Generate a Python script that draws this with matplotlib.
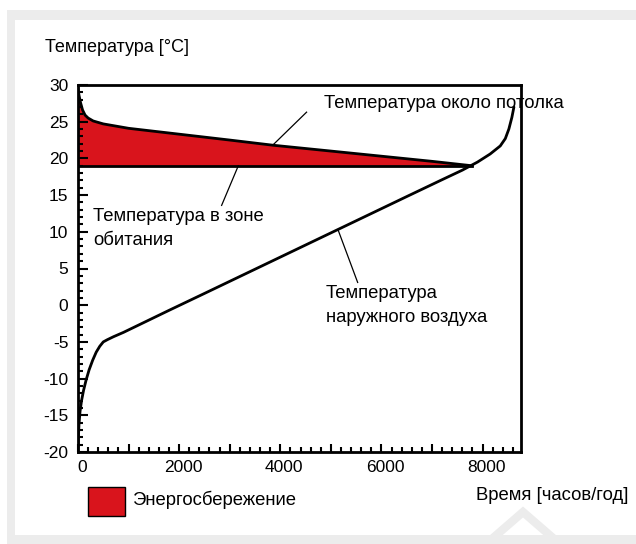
import matplotlib
matplotlib.use("Agg")
import matplotlib.pyplot as plt
import matplotlib.transforms as mtransforms
from matplotlib.patches import Rectangle
from matplotlib.lines import Line2D
from matplotlib.ticker import MultipleLocator, FixedLocator, FixedFormatter
import numpy as np

plt.rcParams['font.family'] = ['Liberation Sans', 'DejaVu Sans']
plt.rcParams['axes.unicode_minus'] = False

# Annual duration curves (hours per year vs temperature, °C)
hours_outdoor = [0, 8, 20, 40, 70, 110, 160, 220, 290, 360, 430, 500, 580, 700, 900,
                 1200, 1800, 2500, 3500, 4500, 5500, 6500, 7200, 7600, 7900,
                 8150, 8350, 8450, 8520, 8580, 8620]
temp_outdoor = [-20, -18.0, -16.2, -14.5, -13.0, -11.6, -10.2, -8.8, -7.5, -6.4, -5.6,
                -5.0, -4.7, -4.3, -3.7, -2.7, -0.7, 1.6, 4.9, 8.2, 11.5, 14.8, 17.1,
                18.4, 19.5, 20.6, 21.7, 22.7, 24.0, 25.6, 27.0]

hours_ceiling = [0, 20, 50, 90, 140, 200, 300, 500, 1000, 2000, 3000, 3850, 5000,
                 6000, 7000, 7790]
temp_ceiling = [29.5, 28.6, 27.6, 26.6, 25.9, 25.5, 25.1, 24.7, 24.1, 23.3, 22.5,
                21.8, 21.0, 20.3, 19.6, 19.0]

zone_temp = 19.0
zone_hours = [0, 7790]

x_ticks = [0, 1000, 2000, 3000, 4000, 5000, 6000, 7000, 8000]
x_tick_labels = ['0', '', '2000', '', '4000', '', '6000', '', '8000']
y_ticks = [-20, -15, -10, -5, 0, 5, 10, 15, 20, 25, 30]

red = '#d9141c'

fig = plt.figure(figsize=(6.36, 5.44), dpi=100)
fig.patch.set_facecolor('white')

W, H = 636, 544
# page frame
fig.add_artist(Rectangle((7 / W, 0), 1, 1 - 10 / H, transform=fig.transFigure,
                         facecolor='#ececec', edgecolor='none', zorder=-10))
fig.add_artist(Rectangle((15 / W, 9 / H), 1, 1 - 29 / H, transform=fig.transFigure,
                         facecolor='white', edgecolor='none', zorder=-9))
fig.add_artist(Line2D([493 / W, 523 / W, 553 / W], [1 - 538 / H, 1 - 512 / H, 1 - 538 / H],
                      transform=fig.transFigure, color='#ececec', lw=6,
                      solid_joinstyle='miter', zorder=-8))

ax = fig.add_axes([78 / W, 1 - 452 / H, (521 - 78) / W, (452 - 85) / H])
ax.set_xlim(0, 8760)
ax.set_ylim(-20, 30)

hc = np.array(hours_ceiling, dtype=float)
tc = np.array(temp_ceiling, dtype=float)
ax.fill_between(hc, tc, zone_temp, color=red, lw=0, zorder=1)
ax.plot(hc, tc, color='black', lw=2, zorder=3)
ax.plot(zone_hours, [zone_temp, zone_temp], color='black', lw=2, zorder=3)
ax.plot(hours_outdoor, temp_outdoor, color='black', lw=2, zorder=3,
        solid_capstyle='round')

for s in ax.spines.values():
    s.set_linewidth(2)
    s.set_zorder(4)

ax.xaxis.set_major_locator(FixedLocator(x_ticks))
ax.xaxis.set_major_formatter(FixedFormatter(x_tick_labels))
ax.set_yticks(y_ticks)
ax.xaxis.set_minor_locator(MultipleLocator(200))
ax.yaxis.set_minor_locator(MultipleLocator(1))
ax.tick_params(which='major', direction='in', length=7, width=1.5, labelsize=12.5,
               top=False, right=False)
ax.tick_params(which='minor', direction='in', length=3.5, width=1.5,
               top=False, right=False)
ax.tick_params(axis='x', which='major', length=6)
ax.tick_params(axis='y', which='major', pad=7)
ax.tick_params(axis='x', which='major', pad=6)

offset = mtransforms.ScaledTranslation(4 / 100, 0, fig.dpi_scale_trans)
for lab in ax.get_xticklabels():
    lab.set_transform(lab.get_transform() + offset)

fs = 13.3
# curve labels with leader lines
ax.text(4855, 27.5, 'Температура около потолка', fontsize=fs, va='center', ha='left')
ax.plot([4520, 3850], [26.3, np.interp(3850, hc, tc)], color='black', lw=0.9, zorder=2)

ax.text(300, 10.5, 'Температура в зоне\nобитания', fontsize=fs, va='center',
        ha='left', linespacing=1.55)
ax.plot([2840, 3170], [13.6, zone_temp], color='black', lw=0.9, zorder=2)

ax.text(4900, 0.0, 'Температура\nнаружного воздуха', fontsize=fs, va='center',
        ha='left', linespacing=1.55)
ax.plot([5530, 5140], [3.1, np.interp(5140, hours_outdoor, temp_outdoor)],
        color='black', lw=0.9, zorder=2)

# axis captions and legend
fig.text(45 / W, 1 - 47 / H, 'Температура [°C]', fontsize=13, va='center', ha='left')
fig.text(628 / W, 1 - 495 / H, 'Время [часов/год]', fontsize=fs, va='center', ha='right')
fig.add_artist(Rectangle((88 / W, 1 - 516 / H), 37 / W, 29 / H, transform=fig.transFigure,
                         facecolor=red, edgecolor='black', lw=1))
fig.text(132 / W, 1 - 500 / H, 'Энергосбережение', fontsize=fs, va='center', ha='left')

fig.savefig('out.png', dpi=100, facecolor=fig.get_facecolor())
